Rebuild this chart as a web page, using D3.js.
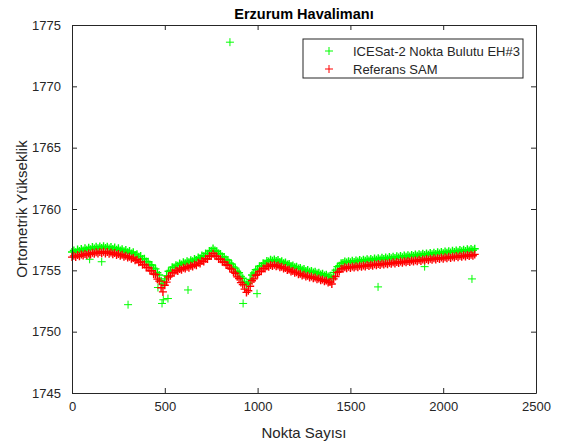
<!DOCTYPE html>
<html>
<head>
<meta charset="utf-8">
<script src="https://cdn.jsdelivr.net/npm/d3@7"></script>
<style>
  body { margin: 0; background: #fff; }
  text { font-family: "Liberation Sans", Arial, sans-serif; fill: #262626; }
</style>
</head>
<body>
<div id="chart"></div>
<script>
// Point index step between stored samples
const pointStep = 10;

// Referans SAM heights (every 10th point)
const samValues = [
  1756.08, 1756.18, 1756.09, 1756.24, 1756.15, 1756.29, 1756.20, 1756.33, 1756.24, 1756.38,
  1756.30, 1756.44, 1756.35, 1756.48, 1756.38, 1756.50, 1756.40, 1756.52, 1756.38, 1756.49,
  1756.36, 1756.46, 1756.31, 1756.41, 1756.25, 1756.34, 1756.18, 1756.27, 1756.10, 1756.19,
  1756.04, 1756.11, 1755.94, 1756.01, 1755.82, 1755.86, 1755.66, 1755.69, 1755.46, 1755.47,
  1755.24, 1755.22, 1754.98, 1754.97, 1754.70, 1754.66, 1754.28, 1754.12, 1753.58, 1753.24,
  1753.78, 1754.04, 1754.46, 1754.55, 1754.81, 1754.80, 1754.98, 1754.95, 1755.11, 1755.05,
  1755.21, 1755.14, 1755.30, 1755.22, 1755.38, 1755.31, 1755.48, 1755.42, 1755.61, 1755.56,
  1755.76, 1755.72, 1755.94, 1755.92, 1756.16, 1756.17, 1756.36, 1756.18, 1756.14, 1755.93,
  1755.90, 1755.69, 1755.66, 1755.45, 1755.42, 1755.17, 1755.10, 1754.85, 1754.76, 1754.47,
  1754.34, 1754.00, 1753.84, 1753.47, 1753.20, 1753.34, 1753.70, 1754.15, 1754.30, 1754.60,
  1754.67, 1754.91, 1754.93, 1755.15, 1755.15, 1755.33, 1755.30, 1755.43, 1755.35, 1755.45,
  1755.33, 1755.40, 1755.25, 1755.30, 1755.15, 1755.19, 1755.03, 1755.07, 1754.91, 1754.95,
  1754.80, 1754.85, 1754.69, 1754.73, 1754.58, 1754.63, 1754.49, 1754.55, 1754.42, 1754.49,
  1754.35, 1754.41, 1754.27, 1754.33, 1754.19, 1754.25, 1754.11, 1754.17, 1754.01, 1754.05,
  1753.88, 1754.30, 1754.50, 1754.83, 1754.90, 1755.13, 1755.13, 1755.25, 1755.17, 1755.29,
  1755.20, 1755.31, 1755.23, 1755.34, 1755.26, 1755.37, 1755.29, 1755.40, 1755.32, 1755.43,
  1755.35, 1755.46, 1755.38, 1755.49, 1755.41, 1755.52, 1755.44, 1755.55, 1755.47, 1755.58,
  1755.50, 1755.61, 1755.53, 1755.65, 1755.56, 1755.68, 1755.59, 1755.71, 1755.62, 1755.74,
  1755.65, 1755.77, 1755.68, 1755.80, 1755.71, 1755.83, 1755.74, 1755.86, 1755.77, 1755.89,
  1755.80, 1755.92, 1755.83, 1755.95, 1755.86, 1755.98, 1755.89, 1756.01, 1755.92, 1756.04,
  1755.95, 1756.07, 1755.98, 1756.10, 1756.01, 1756.13, 1756.04, 1756.16, 1756.07, 1756.19,
  1756.10, 1756.22, 1756.13, 1756.25, 1756.16, 1756.28, 1756.19, 1756.30
];

// ICESat-2 point cloud heights (every 10th point)
const icesatValues = [
  1756.50, 1756.62, 1756.48, 1756.70, 1756.58, 1756.74, 1756.62, 1756.80, 1756.68, 1756.84,
  1756.72, 1756.90, 1756.78, 1756.92, 1756.80, 1756.95, 1756.83, 1756.96, 1756.82, 1756.93,
  1756.78, 1756.90, 1756.74, 1756.86, 1756.68, 1756.80, 1756.62, 1756.72, 1756.55, 1756.66,
  1756.48, 1756.58, 1756.38, 1756.48, 1756.26, 1756.32, 1756.10, 1756.16, 1755.92, 1755.95,
  1755.72, 1755.70, 1755.45, 1755.44, 1755.18, 1755.12, 1754.80, 1754.62, 1754.15, 1753.90,
  1754.30, 1754.55, 1754.92, 1755.00, 1755.26, 1755.24, 1755.42, 1755.38, 1755.56, 1755.48,
  1755.66, 1755.58, 1755.75, 1755.66, 1755.83, 1755.74, 1755.92, 1755.85, 1756.05, 1755.98,
  1756.20, 1756.15, 1756.38, 1756.35, 1756.58, 1756.60, 1756.78, 1756.62, 1756.56, 1756.38,
  1756.33, 1756.12, 1756.08, 1755.88, 1755.84, 1755.60, 1755.52, 1755.28, 1755.18, 1754.92,
  1754.80, 1754.50, 1754.36, 1754.05, 1753.85, 1753.95, 1754.25, 1754.62, 1754.78, 1755.05,
  1755.10, 1755.34, 1755.36, 1755.58, 1755.56, 1755.76, 1755.72, 1755.86, 1755.78, 1755.88,
  1755.76, 1755.84, 1755.68, 1755.74, 1755.58, 1755.64, 1755.47, 1755.52, 1755.36, 1755.40,
  1755.25, 1755.30, 1755.14, 1755.19, 1755.04, 1755.10, 1754.95, 1755.02, 1754.88, 1754.95,
  1754.82, 1754.88, 1754.74, 1754.80, 1754.66, 1754.72, 1754.58, 1754.64, 1754.50, 1754.52,
  1754.40, 1754.82, 1755.02, 1755.30, 1755.38, 1755.58, 1755.60, 1755.72, 1755.63, 1755.75,
  1755.66, 1755.78, 1755.68, 1755.80, 1755.72, 1755.84, 1755.74, 1755.86, 1755.78, 1755.90,
  1755.80, 1755.93, 1755.83, 1755.96, 1755.86, 1755.99, 1755.89, 1756.02, 1755.92, 1756.05,
  1755.95, 1756.08, 1755.98, 1756.11, 1756.01, 1756.14, 1756.04, 1756.17, 1756.07, 1756.20,
  1756.10, 1756.23, 1756.13, 1756.26, 1756.16, 1756.29, 1756.19, 1756.32, 1756.22, 1756.35,
  1756.25, 1756.38, 1756.28, 1756.41, 1756.31, 1756.44, 1756.34, 1756.47, 1756.37, 1756.50,
  1756.40, 1756.53, 1756.43, 1756.56, 1756.46, 1756.59, 1756.49, 1756.62, 1756.52, 1756.65,
  1756.55, 1756.68, 1756.58, 1756.71, 1756.61, 1756.74, 1756.64, 1756.76
];

// ICESat-2 stray points away from the main band
const outlierIndex = [95, 160, 302, 463, 485, 492, 517, 625, 851, 922, 997, 1649, 1900, 2155];
const outlierValues = [1755.9, 1755.7, 1752.2, 1753.6, 1752.3, 1752.6, 1752.7, 1753.4, 1773.6, 1752.3, 1753.1, 1753.65, 1755.3, 1754.3];

const xTicks = [0, 500, 1000, 1500, 2000, 2500];
const yTicks = [1745, 1750, 1755, 1760, 1765, 1770, 1775];

const width = 562, height = 447;
const margin = {top: 25, right: 26, bottom: 54, left: 72};

const svg = d3.select("#chart").append("svg")
    .attr("width", width)
    .attr("height", height);

const x = d3.scaleLinear()
    .domain([0, 2500])
    .range([margin.left, width - margin.right]);

const y = d3.scaleLinear()
    .domain([1745, 1775])
    .range([height - margin.bottom, margin.top]);

const plus = "M-4,0H4M0,-4V4";

// Build point lists
const icesatBand = icesatValues.map((v, i) => ({n: i * pointStep, v: v}));
const icesatStray = outlierIndex.map((n, i) => ({n: n, v: outlierValues[i]}));
const sam = samValues.map((v, i) => ({n: i * pointStep, v: v}));

function drawMarks(data, color, sw) {
    svg.append("g").selectAll("path")
        .data(data)
        .join("path")
        .attr("transform", d => `translate(${x(d.n)},${y(d.v)})`)
        .attr("d", plus)
        .attr("stroke", color)
        .attr("stroke-width", sw)
        .attr("fill", "none");
}

// Green first, red on top
drawMarks(icesatStray, "#00ff00", 1);
drawMarks(icesatBand, "#00ff00", 1.4);
drawMarks(sam, "#ff0000", 1.4);

// Axes, MATLAB box style with inward ticks on all sides
const tickLen = 5;
const axisColor = "#262626";

function styleAxis(g) {
    g.select(".domain").attr("stroke", axisColor);
    g.selectAll(".tick line").attr("stroke", axisColor);
    g.selectAll(".tick text")
        .attr("fill", axisColor)
        .style("font-size", "13px")
        .style("font-family", "Liberation Sans, Arial, sans-serif");
}

svg.append("g")
    .attr("transform", `translate(0,${height - margin.bottom})`)
    .call(d3.axisBottom(x).tickValues(xTicks).tickFormat(d3.format("d"))
        .tickSize(-tickLen).tickSizeOuter(0).tickPadding(9))
    .call(styleAxis);

svg.append("g")
    .attr("transform", `translate(0,${margin.top})`)
    .call(d3.axisTop(x).tickValues(xTicks).tickSize(-tickLen).tickSizeOuter(0).tickFormat(""))
    .call(styleAxis);

svg.append("g")
    .attr("transform", `translate(${margin.left},0)`)
    .call(d3.axisLeft(y).tickValues(yTicks).tickFormat(d3.format("d"))
        .tickSize(-tickLen).tickSizeOuter(0).tickPadding(11))
    .call(styleAxis);

svg.append("g")
    .attr("transform", `translate(${width - margin.right},0)`)
    .call(d3.axisRight(y).tickValues(yTicks).tickSize(-tickLen).tickSizeOuter(0).tickFormat(""))
    .call(styleAxis);

// Title and axis labels
svg.append("text")
    .attr("x", (margin.left + width - margin.right) / 2)
    .attr("y", 19)
    .attr("text-anchor", "middle")
    .style("font-size", "14.5px")
    .style("font-weight", "bold")
    .style("fill", "#000")
    .text("Erzurum Havalimanı");

svg.append("text")
    .attr("x", (margin.left + width - margin.right) / 2)
    .attr("y", 438)
    .attr("text-anchor", "middle")
    .style("font-size", "15px")
    .text("Nokta Sayısı");

svg.append("text")
    .attr("transform", `translate(27,${(margin.top + height - margin.bottom) / 2}) rotate(-90)`)
    .attr("text-anchor", "middle")
    .style("font-size", "15px")
    .text("Ortometrik Yükseklik");

// Legend
const legend = svg.append("g").attr("transform", "translate(303,39)");

legend.append("rect")
    .attr("width", 220)
    .attr("height", 39)
    .attr("fill", "#fff")
    .attr("stroke", axisColor)
    .attr("stroke-width", 1);

const legendItems = [
    {label: "ICESat-2 Nokta Bulutu EH#3", color: "#00ff00"},
    {label: "Referans SAM", color: "#ff0000"}
];

legendItems.forEach((item, i) => {
    legend.append("path")
        .attr("transform", `translate(26,${12 + i * 18})`)
        .attr("d", plus)
        .attr("stroke", item.color)
        .attr("fill", "none");
    legend.append("text")
        .attr("x", 50)
        .attr("y", 16.5 + i * 18)
        .style("font-size", "13px")
        .text(item.label);
});
</script>
</body>
</html>
